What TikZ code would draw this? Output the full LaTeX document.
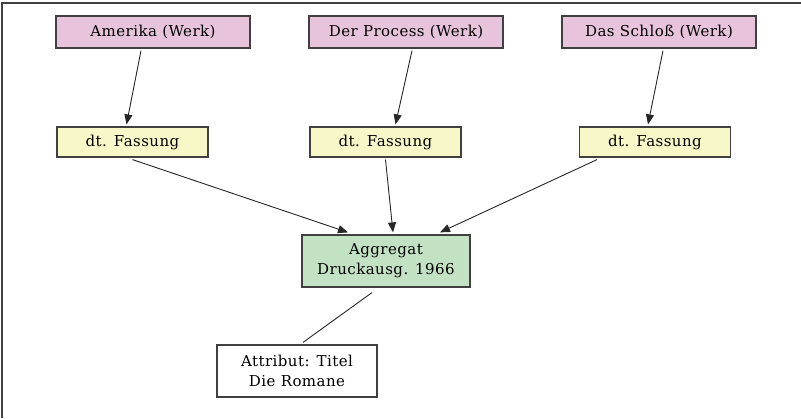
\documentclass[tikz,border=0pt]{standalone}
\usepackage{fontspec}
\setmainfont{DejaVu Serif}[LetterSpace=3]
\usetikzlibrary{arrows.meta}
\definecolor{werkfill}{HTML}{E8C4DC}
\definecolor{fassfill}{HTML}{F8F7C8}
\definecolor{aggrfill}{HTML}{C3E1C3}
\definecolor{edgegray}{HTML}{404040}
\tikzset{
  box/.style={draw=edgegray, line width=1.2pt, inner sep=0pt, align=center,
    font=\fontsize{15}{20}\selectfont},
  werk/.style={box, fill=werkfill, minimum width=194pt, minimum height=32pt},
  fassung/.style={box, fill=fassfill, minimum width=151pt, minimum height=30pt},
  aggr/.style={box, fill=aggrfill, minimum width=168pt, minimum height=52pt},
  attr/.style={box, fill=white, minimum width=160pt, minimum height=52pt},
  link/.style={draw=black!85, line width=0.9pt},
  arr/.style={link, -{Triangle[length=10pt,width=8pt]}},
}
\begin{document}
\begin{tikzpicture}[x=1pt,y=-1pt]
  \useasboundingbox (0,0) rectangle (801,418);
  % frame along top and left
  \draw[edgegray, line width=1.2pt] (2,418) -- (2,3) -- (801,3);

  \node[werk] (w1) at (153,32) {Amerika (Werk)};
  \node[werk] (w2) at (406,32) {Der Process (Werk)};
  \node[werk] (w3) at (659,32) {Das Schloß (Werk)};

  \node[fassung] (f1) at (132.5,142) {dt. Fassung};
  \node[fassung] (f2) at (385.5,142) {dt. Fassung};
  \node[fassung] (f3) at (655,142) {dt. Fassung};

  \node[aggr] (ag) at (386,261) {Aggregat\\Druckausg. 1966};
  \node[attr] (at) at (297,371) {Attribut: Titel\\Die Romane};

  \draw[arr] ([xshift=-12pt,yshift=-2pt]w1.south) -- ([xshift=-6pt,yshift=2pt]f1.north);
  \draw[arr] ([xshift=6pt,yshift=-2pt]w2.south) -- ([xshift=10pt,yshift=2pt]f2.north);
  \draw[arr] ([xshift=4pt,yshift=-2pt]w3.south) -- ([xshift=-7pt,yshift=2pt]f3.north);

  \draw[arr] ([xshift=0pt,yshift=-2pt]f1.south) -- ([xshift=-38pt,yshift=2pt]ag.north);
  \draw[arr] ([xshift=0pt,yshift=-2pt]f2.south) -- ([xshift=7pt,yshift=2pt]ag.north);
  \draw[arr] ([xshift=-58pt,yshift=-2pt]f3.south) -- ([xshift=54pt,yshift=2pt]ag.north);

  \draw[link] ([xshift=-14pt,yshift=-5pt]ag.south) -- ([xshift=6pt,yshift=2pt]at.north);
\end{tikzpicture}
\end{document}
